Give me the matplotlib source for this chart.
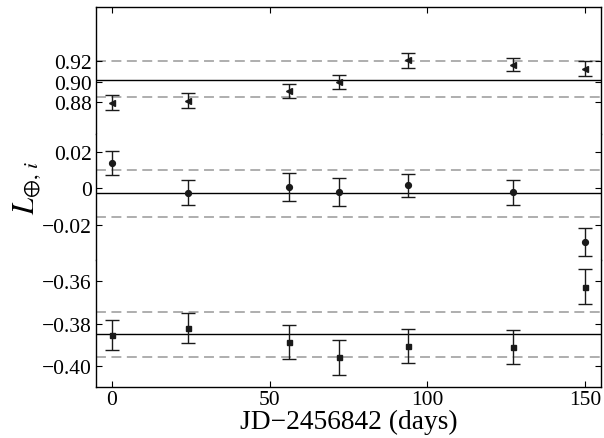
import numpy as np
import matplotlib
matplotlib.use("Agg")
import matplotlib.pyplot as plt

plt.rcParams['font.family'] = ['Liberation Serif', 'DejaVu Serif']
plt.rcParams['mathtext.fontset'] = 'stix'

# observation epochs, JD - 2456842
days = [0, 24, 56, 72, 94, 127, 150]

# top block (triangles)
L_top = [0.879, 0.881, 0.8905, 0.8995, 0.921, 0.917, 0.913]
err_top = [0.0072, 0.0072, 0.0072, 0.0072, 0.0070, 0.0068, 0.0075]
top_mean = 0.902
top_band = [0.920, 0.885]
top_ticks = [0.88, 0.90, 0.92]
top_labels = ['0.88', '0.90', '0.92']

# middle block (circles)
L_mid = [0.0141, -0.0024, 0.0007, -0.0018, 0.0018, -0.0022, -0.0294]
err_mid = [0.0066, 0.0068, 0.0079, 0.0077, 0.0063, 0.0068, 0.0077]
mid_mean = -0.0027
mid_band = [0.0102, -0.0157]
mid_ticks = [-0.02, 0.0, 0.02]
mid_labels = ['\u22120.02', '0', '0.02']

# bottom block (squares)
L_bot = [-0.3854, -0.3820, -0.3887, -0.3959, -0.3906, -0.3911, -0.3625]
err_bot = [0.0071, 0.0071, 0.0081, 0.0082, 0.0081, 0.0080, 0.0082]
bot_mean = -0.3849
bot_band = [-0.3743, -0.3959]
bot_ticks = [-0.40, -0.38, -0.36]
bot_labels = ['\u22120.40', '\u22120.38', '\u22120.36']

blocks = [
    (L_top, err_top, top_mean, top_band, top_ticks, top_labels, '<', 4.0, (0.848, 0.9745)),
    (L_mid, err_mid, mid_mean, mid_band, mid_ticks, mid_labels, 'o', 4.2, (-0.0395, 0.030)),
    (L_bot, err_bot, bot_mean, bot_band, bot_ticks, bot_labels, 's', 3.6, (-0.41, -0.35)),
]

fig, axes = plt.subplots(3, 1, sharex=True, figsize=(6.04, 4.39), dpi=100)
fig.subplots_adjust(left=0.159, right=0.995, top=0.982, bottom=0.116, hspace=0)

for i, (ax, blk) in enumerate(zip(axes, blocks)):
    vals, errs, mean, band, ticks, labels, mk, ms, lim = blk
    ax.axhline(mean, color='black', lw=1.0, zorder=1)
    for b in band:
        ax.axhline(b, color='#999999', lw=1.1, dashes=(6.5, 3.6), zorder=1)
    ax.errorbar(days, vals, yerr=errs, fmt=mk, color='#1a1a1a', ms=ms,
                ecolor='#1a1a1a', elinewidth=1.0, capsize=4.7, capthick=1.0, zorder=3)
    ax.set_ylim(*lim)
    ax.set_yticks(ticks)
    ax.set_yticklabels(labels)
    ax.tick_params(axis='y', direction='in', left=True, right=True, length=4,
                   labelsize=15.5, pad=3)
    ax.tick_params(axis='x', direction='in', length=4, labelsize=15.5, pad=2,
                   top=(i == 0), bottom=(i == 2))
    for s in ax.spines.values():
        s.set_linewidth(1.0)
    if i > 0:
        ax.spines['top'].set_visible(False)
    if i < 2:
        ax.spines['bottom'].set_visible(False)

axes[2].set_xlim(-5, 155)
axes[2].set_xticks([0, 50, 100, 150])
axes[2].set_xlabel('JD\u22122456842 (days)', fontsize=19.7, labelpad=0)

fig.text(0.045, 0.572, r'$L_{\oplus,\,i}$', rotation=90, fontsize=22,
         ha='center', va='center')

fig.savefig('out.png', dpi=100)
